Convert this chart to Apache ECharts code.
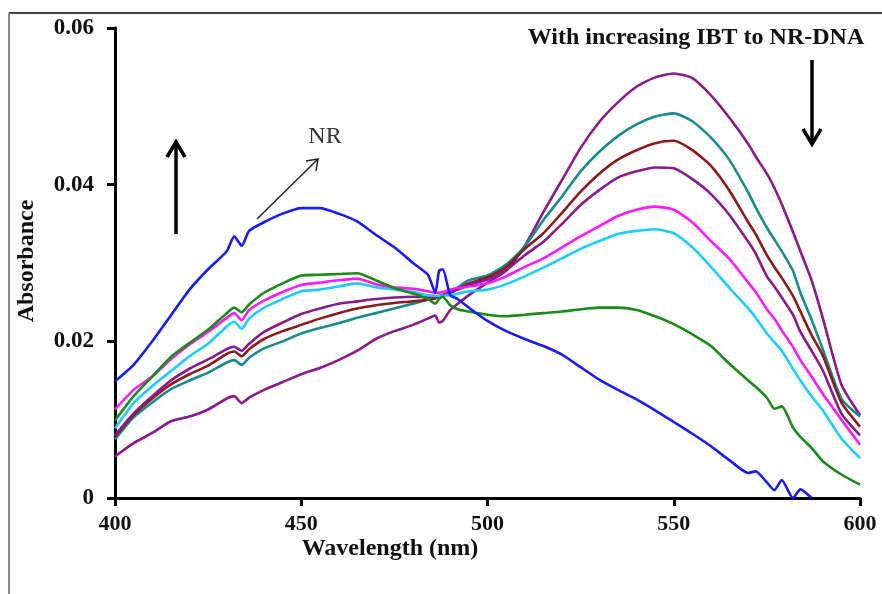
<!DOCTYPE html>
<html><head><meta charset="utf-8">
<script src="https://cdn.jsdelivr.net/npm/echarts/dist/echarts.min.js"></script>
<style>html,body{margin:0;padding:0;background:#fff}#c{width:882px;height:594px}</style>
</head><body><div id="c"></div><script>
// Wavelength grid (nm)
const wavelengths = [400,405,410,415,420,425,430,432,434,436,440,445,450,455,460,465,470,475,480,484,486,487,488,490,492,495,500,505,510,515,520,525,530,535,540,545,550,555,560,565,570,572,575,577,579,582,584,587,590,595,600];

// Absorbance values
const nr = [0.0149,0.0170,0.0200,0.0233,0.0266,0.0292,0.0315,0.0334,0.0322,0.0341,0.0352,0.0363,0.0370,0.0370,0.0363,0.0353,0.0336,0.0320,0.0300,0.0285,0.0262,0.0290,0.0292,0.0259,0.0254,0.0243,0.0226,0.0213,0.0203,0.0194,0.0183,0.0167,0.0151,0.0138,0.0126,0.0112,0.0097,0.0082,0.0066,0.0048,0.0032,0.0034,0.0020,0.0010,0.0023,0.0000,0.0011,0.0000,null,null,null];
const ibt6 = [0.0099,0.0130,0.0155,0.0180,0.0198,0.0215,0.0236,0.0243,0.0237,0.0247,0.0262,0.0274,0.0284,0.0285,0.0286,0.0287,0.0278,0.0268,0.0261,0.0254,0.0248,0.0254,0.0257,0.0246,0.0241,0.0238,0.0234,0.0232,0.0234,0.0236,0.0238,0.0241,0.0243,0.0243,0.0240,0.0232,0.0222,0.0209,0.0194,0.0171,0.0150,0.0142,0.0128,0.0114,0.0117,0.0090,0.0078,0.0064,0.0047,0.0030,0.0017];
const ibt5 = [0.0113,0.0138,0.0155,0.0177,0.0196,0.0212,0.0230,0.0236,0.0227,0.0240,0.0252,0.0263,0.0272,0.0275,0.0278,0.0280,0.0273,0.0269,0.0267,0.0264,0.0262,0.0262,0.0263,0.0266,0.0268,0.0270,0.0274,0.0283,0.0295,0.0306,0.0320,0.0334,0.0347,0.0360,0.0368,0.0372,0.0368,0.0352,0.0328,0.0305,0.0275,0.0263,0.0241,0.0229,0.0214,0.0193,0.0176,0.0155,0.0133,0.0100,0.0068];
const ibt4 = [0.0089,0.0121,0.0143,0.0162,0.0181,0.0197,0.0219,0.0225,0.0216,0.0229,0.0243,0.0254,0.0264,0.0266,0.0270,0.0274,0.0269,0.0266,0.0263,0.0259,0.0258,0.0258,0.0258,0.0259,0.0261,0.0264,0.0266,0.0273,0.0283,0.0294,0.0306,0.0318,0.0328,0.0337,0.0341,0.0343,0.0338,0.0320,0.0295,0.0268,0.0242,0.0230,0.0210,0.0199,0.0188,0.0165,0.0150,0.0130,0.0112,0.0076,0.0051];
const ibt3 = [0.0080,0.0108,0.0130,0.0150,0.0165,0.0177,0.0190,0.0193,0.0188,0.0197,0.0212,0.0224,0.0235,0.0242,0.0248,0.0251,0.0254,0.0256,0.0257,0.0256,0.0257,0.0258,0.0259,0.0262,0.0266,0.0272,0.0279,0.0291,0.0310,0.0327,0.0350,0.0374,0.0393,0.0409,0.0417,0.0422,0.0421,0.0407,0.0388,0.0361,0.0327,0.0312,0.0283,0.0270,0.0256,0.0234,0.0212,0.0188,0.0163,0.0108,0.0080];
const ibt2 = [0.0078,0.0106,0.0127,0.0145,0.0158,0.0169,0.0184,0.0187,0.0181,0.0190,0.0203,0.0213,0.0221,0.0229,0.0236,0.0242,0.0246,0.0249,0.0251,0.0253,0.0255,0.0257,0.0259,0.0262,0.0267,0.0274,0.0282,0.0295,0.0318,0.0338,0.0364,0.0391,0.0414,0.0432,0.0444,0.0453,0.0456,0.0444,0.0424,0.0392,0.0352,0.0337,0.0310,0.0295,0.0281,0.0258,0.0238,0.0208,0.0182,0.0122,0.0091];
const ibt1 = [0.0075,0.0103,0.0122,0.0139,0.0150,0.0160,0.0173,0.0176,0.0170,0.0179,0.0191,0.0200,0.0210,0.0217,0.0223,0.0230,0.0236,0.0242,0.0248,0.0253,0.0255,0.0257,0.0259,0.0263,0.0269,0.0278,0.0284,0.0298,0.0321,0.0355,0.0385,0.0417,0.0442,0.0462,0.0477,0.0487,0.0491,0.0481,0.0460,0.0431,0.0390,0.0371,0.0345,0.0330,0.0315,0.0290,0.0262,0.0228,0.0190,0.0127,0.0104];
const nrDna = [0.0053,0.0070,0.0083,0.0098,0.0104,0.0113,0.0127,0.0130,0.0121,0.0128,0.0138,0.0148,0.0158,0.0166,0.0176,0.0188,0.0203,0.0213,0.0221,0.0229,0.0233,0.0224,0.0226,0.0240,0.0248,0.0259,0.0275,0.0290,0.0322,0.0365,0.0406,0.0447,0.0480,0.0505,0.0525,0.0537,0.0542,0.0536,0.0514,0.0485,0.0452,0.0436,0.0414,0.0396,0.0375,0.0340,0.0315,0.0278,0.0230,0.0145,0.0106];

const seriesNames = ['NR-DNA','IBT 1','IBT 2','IBT 3','IBT 4','IBT 5','IBT 6','NR'];
const seriesData = [nrDna, ibt1, ibt2, ibt3, ibt4, ibt5, ibt6, nr];
const seriesColors = ['#8a1a8a','#1a8a8a','#8b1a1a','#8a1a8a','#1ecbff','#ff1aff','#1a8a1a','#1a1aff'];

const yTicks = [0, 0.02, 0.04, 0.06];
const xTicks = [400, 450, 500, 550, 600];

const serif = '"Liberation Serif", "DejaVu Serif", serif';
const chart = echarts.init(document.getElementById('c'));

const series = seriesData.map((arr, i) => ({
  name: seriesNames[i],
  type: 'line',
  data: wavelengths.map((w, j) => [w, arr[j]]),
  showSymbol: false,
  symbol: 'none',
  connectNulls: false,
  smooth: 0.2,
  lineStyle: { color: seriesColors[i], width: 2.6 },
  itemStyle: { color: seriesColors[i] },
  z: 2
}));

chart.setOption({
  animation: false,
  backgroundColor: '#fff',
  grid: { left: 115, right: 22, top: 28, bottom: 96 },
  xAxis: {
    type: 'value', min: xTicks[0], max: xTicks[xTicks.length - 1], interval: 50,
    axisLine: { show: true, onZero: false, lineStyle: { color: '#000', width: 3 } },
    axisTick: { show: true, inside: false, length: 8, lineStyle: { color: '#000', width: 3 } },
    axisLabel: { margin: 15, color: '#111', fontFamily: serif, fontWeight: 'bold', fontSize: 22 },
    splitLine: { show: false }
  },
  yAxis: {
    type: 'value', min: yTicks[0], max: yTicks[yTicks.length - 1], interval: 0.02,
    axisLine: { show: true, lineStyle: { color: '#000', width: 3 } },
    axisTick: { show: true, inside: false, length: 8, lineStyle: { color: '#000', width: 3 } },
    axisLabel: { margin: 21, color: '#111', fontFamily: serif, fontWeight: 'bold', fontSize: 23,
      formatter: v => (v === 0 ? '0' : v.toFixed(2)) },
    splitLine: { show: false }
  },
  series: series,
  graphic: [
    // outer frame lines
    { type: 'line', shape: { x1: 9, y1: 13, x2: 882, y2: 13 }, style: { stroke: '#444', lineWidth: 2 }, silent: true },
    { type: 'line', shape: { x1: 9, y1: 13, x2: 9, y2: 594 }, style: { stroke: '#888', lineWidth: 2 }, silent: true },
    // axis titles
    { type: 'text', x: 390, y: 549, style: { text: 'Wavelength (nm)', fill: '#111', font: 'bold 24px ' + serif, textAlign: 'center', textVerticalAlign: 'middle' } },
    { type: 'text', x: 27, y: 261, rotation: Math.PI / 2, style: { text: 'Absorbance', fill: '#111', font: 'bold 24px ' + serif, textAlign: 'center', textVerticalAlign: 'middle' } },
    // top annotation
    { type: 'text', x: 696, y: 38, style: { text: 'With increasing IBT to NR-DNA', fill: '#111', font: 'bold 24px ' + serif, textAlign: 'center', textVerticalAlign: 'middle' } },
    // NR label and thin arrow
    { type: 'text', x: 325, y: 137, style: { text: 'NR', fill: '#333', font: '24px ' + serif, textAlign: 'center', textVerticalAlign: 'middle' } },
    { type: 'line', shape: { x1: 257, y1: 219, x2: 318, y2: 159 }, style: { stroke: '#222', lineWidth: 1.5 } },
    { type: 'polyline', shape: { points: [[306, 161], [318, 159], [316, 171]] }, style: { stroke: '#222', lineWidth: 1.5, fill: null } },
    // up arrow
    { type: 'line', shape: { x1: 176, y1: 234, x2: 176, y2: 142 }, style: { stroke: '#000', lineWidth: 3.5 } },
    { type: 'polyline', shape: { points: [[167, 157], [176, 142], [185, 157]] }, style: { stroke: '#000', lineWidth: 3.5, fill: null } },
    // down arrow
    { type: 'line', shape: { x1: 812, y1: 60, x2: 812, y2: 144 }, style: { stroke: '#000', lineWidth: 3.5 } },
    { type: 'polyline', shape: { points: [[803, 129], [812, 144], [821, 129]] }, style: { stroke: '#000', lineWidth: 3.5, fill: null } }
  ]
});
</script></body></html>
